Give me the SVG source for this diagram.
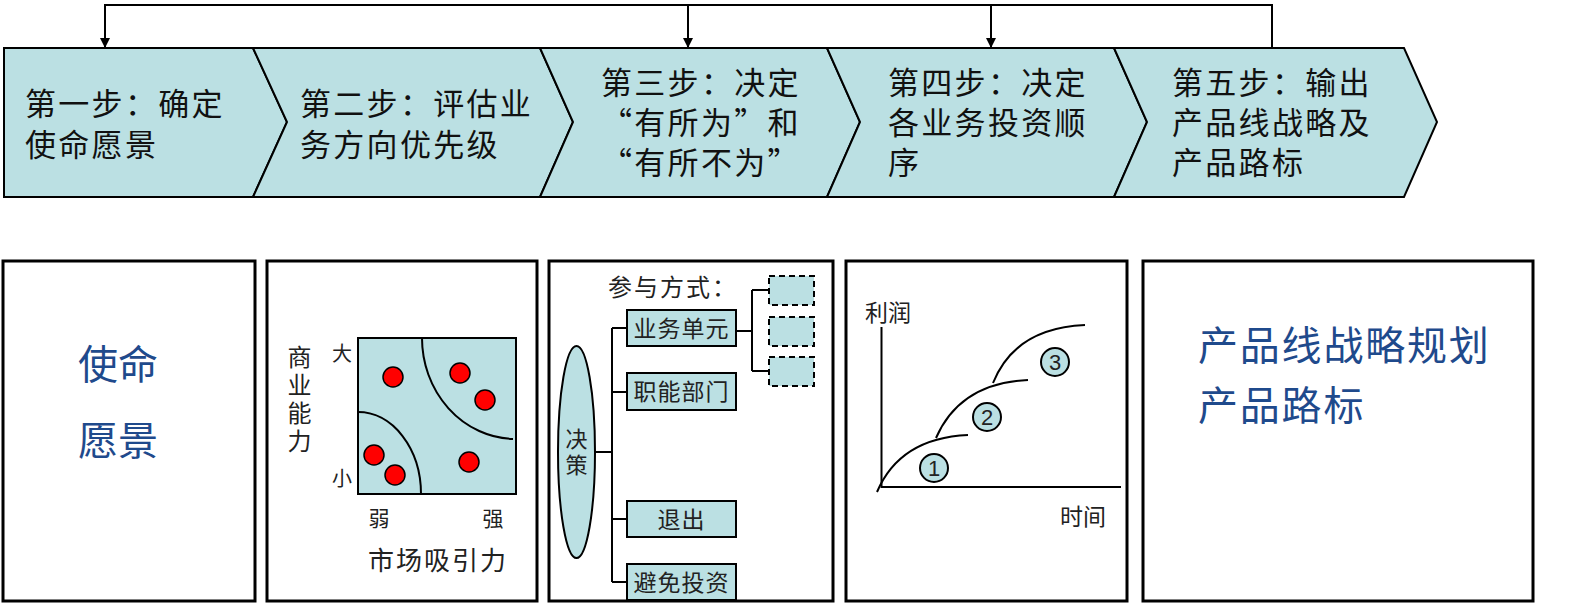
<svg xmlns="http://www.w3.org/2000/svg" width="1570" height="603" viewBox="0 0 1570 603">
<style>
.chev{fill:#BBE0E3;stroke:#000;stroke-width:2;stroke-linejoin:miter}
.ct{font-family:"Noto Sans CJK SC","Noto Sans",sans-serif;font-size:31px;letter-spacing:2.3px;fill:#111}
.panel{fill:#fff;stroke:#000;stroke-width:3}
.blue{font-family:"Noto Sans CJK SC",sans-serif;font-size:40px;fill:#1F4A8C}
.sm{font-family:"Noto Sans CJK SC",sans-serif;fill:#222}
.vt{writing-mode:vertical-rl;text-anchor:middle}
.teal{fill:#BBE0E3;stroke:#000;stroke-width:2}
.dash{fill:#BBE0E3;stroke:#000;stroke-width:2;stroke-dasharray:6 4}
.ln{fill:none;stroke:#000;stroke-width:2}
.dot{fill:#FF0000;stroke:#000;stroke-width:1.5}
.num{font-family:"Liberation Sans",Arial,sans-serif;font-size:22px;fill:#222;text-anchor:middle}
</style>
<defs>
<marker id="ah" markerWidth="10" markerHeight="10" refX="9" refY="5" orient="auto" markerUnits="userSpaceOnUse">
<path d="M0,0 L10,5 L0,10 Z" fill="#000"/>
</marker>
</defs>

<g id="connectors">
<polyline class="ln" points="1272,48 1272,5 105,5 105,47" marker-end="url(#ah)"/>
<line class="ln" x1="688" y1="5" x2="688" y2="47" marker-end="url(#ah)"/>
<line class="ln" x1="991" y1="5" x2="991" y2="47" marker-end="url(#ah)"/>
</g>

<g id="step1">
<polygon class="chev" points="4,48 253,48 287,122 253,197 4,197"/>
<text class="ct"><tspan x="25" y="115">第一步：确定</tspan><tspan x="25" y="156">使命愿景</tspan></text>
</g>
<g id="step2">
<polygon class="chev" points="253,48 540,48 573,122 540,197 253,197 287,122"/>
<text class="ct"><tspan x="300" y="115">第二步：评估业</tspan><tspan x="300" y="156">务方向优先级</tspan></text>
</g>
<g id="step3">
<polygon class="chev" points="540,48 827,48 860,122 827,197 540,197 573,122"/>
<text class="ct"><tspan x="601" y="94">第三步：决定</tspan><tspan x="601" y="134">“有所为”和</tspan><tspan x="601" y="174">“有所不为”</tspan></text>
</g>
<g id="step4">
<polygon class="chev" points="827,48 1114,48 1147,122 1114,197 827,197 860,122"/>
<text class="ct"><tspan x="888" y="94">第四步：决定</tspan><tspan x="888" y="134">各业务投资顺</tspan><tspan x="888" y="174">序</tspan></text>
</g>
<g id="step5">
<polygon class="chev" points="1114,48 1404,48 1437,122 1404,197 1114,197 1147,122"/>
<text class="ct"><tspan x="1172" y="94">第五步：输出</tspan><tspan x="1172" y="134">产品线战略及</tspan><tspan x="1172" y="174">产品路标</tspan></text>
</g>

<g id="panel1">
<rect class="panel" x="3" y="261" width="252" height="340"/>
<text class="blue" text-anchor="middle"><tspan x="118" y="379">使命</tspan><tspan x="118" y="455">愿景</tspan></text>
</g>

<g id="panel2">
<rect class="panel" x="267" y="261" width="270" height="340"/>
<rect class="teal" x="358" y="338" width="158" height="156"/>
<path class="ln" d="M358,412 A63,82 0 0 1 421,494"/>
<path class="ln" d="M422,338 A94,101 0 0 0 513,439"/>
<circle class="dot" cx="393" cy="377" r="10"/>
<circle class="dot" cx="460" cy="373" r="10"/>
<circle class="dot" cx="485" cy="400" r="10"/>
<circle class="dot" cx="374" cy="455" r="10"/>
<circle class="dot" cx="395" cy="475" r="10"/>
<circle class="dot" cx="469" cy="462" r="10"/>
<text class="sm vt" font-size="24" x="299.5" y="401" letter-spacing="4">商业能力</text>
<text class="sm" font-size="20" x="342" y="360.5" text-anchor="middle">大</text>
<text class="sm" font-size="20" x="342" y="486" text-anchor="middle">小</text>
<text class="sm" font-size="21" x="379" y="526" text-anchor="middle">弱</text>
<text class="sm" font-size="21" x="493" y="526" text-anchor="middle">强</text>
<text class="sm" font-size="26" x="368" y="570" letter-spacing="2">市场吸引力</text>
</g>

<g id="panel3">
<rect class="panel" x="549" y="261" width="284" height="340"/>
<text class="sm" font-size="24" x="608" y="296" letter-spacing="2" fill="#111">参与方式：</text>
<path class="ln" d="M736,331 H752 M752,290 V371 M752,290 H769 M752,371 H769"/>
<rect class="dash" x="769" y="276" width="45" height="29"/>
<rect class="dash" x="769" y="317" width="45" height="29"/>
<rect class="dash" x="769" y="357" width="45" height="29"/>
<path class="ln" d="M595,452 H612 M612,328 V582 M612,328 H627 M612,392 H627 M612,519 H627 M612,582 H627"/>
<ellipse class="teal" cx="576.5" cy="452" rx="18.5" ry="106"/>
<text class="sm vt" font-size="22" x="576.5" y="454" letter-spacing="4" fill="#555">决策</text>
<rect class="teal" x="627" y="310" width="109" height="36"/>
<text class="sm" font-size="23" x="681.5" y="336.5" text-anchor="middle" letter-spacing="1">业务单元</text>
<rect class="teal" x="627" y="373" width="109" height="37"/>
<text class="sm" font-size="23" x="681.5" y="400" text-anchor="middle" letter-spacing="1">职能部门</text>
<rect class="teal" x="627" y="501" width="109" height="36"/>
<text class="sm" font-size="23" x="681.5" y="527.5" text-anchor="middle" letter-spacing="1">退出</text>
<rect class="teal" x="627" y="564" width="109" height="36"/>
<text class="sm" font-size="23" x="681.5" y="590.5" text-anchor="middle" letter-spacing="1">避免投资</text>
</g>

<g id="panel4">
<rect class="panel" x="846" y="261" width="281" height="340"/>
<text class="sm" font-size="23" x="888" y="320.5" text-anchor="middle">利润</text>
<path class="ln" d="M881.5,327 V488 M881,487 H1121"/>
<path class="ln" d="M877,492 Q900,438 968,435"/>
<path class="ln" d="M936,438 Q960,383 1028,380"/>
<path class="ln" d="M993,383 Q1015,328 1085,325"/>
<circle class="teal" cx="934" cy="468" r="14" stroke-width="1.5"/>
<text class="num" x="934" y="476">1</text>
<circle class="teal" cx="987" cy="417" r="14" stroke-width="1.5"/>
<text class="num" x="987" y="425">2</text>
<circle class="teal" cx="1055" cy="362" r="14" stroke-width="1.5"/>
<text class="num" x="1055" y="370">3</text>
<text class="sm" font-size="23" x="1083" y="524.5" text-anchor="middle">时间</text>
</g>

<g id="panel5">
<rect class="panel" x="1143" y="261" width="390" height="340"/>
<text class="blue" letter-spacing="1.8"><tspan x="1198" y="360">产品线战略规划</tspan><tspan x="1198" y="420">产品路标</tspan></text>
</g>
</svg>
